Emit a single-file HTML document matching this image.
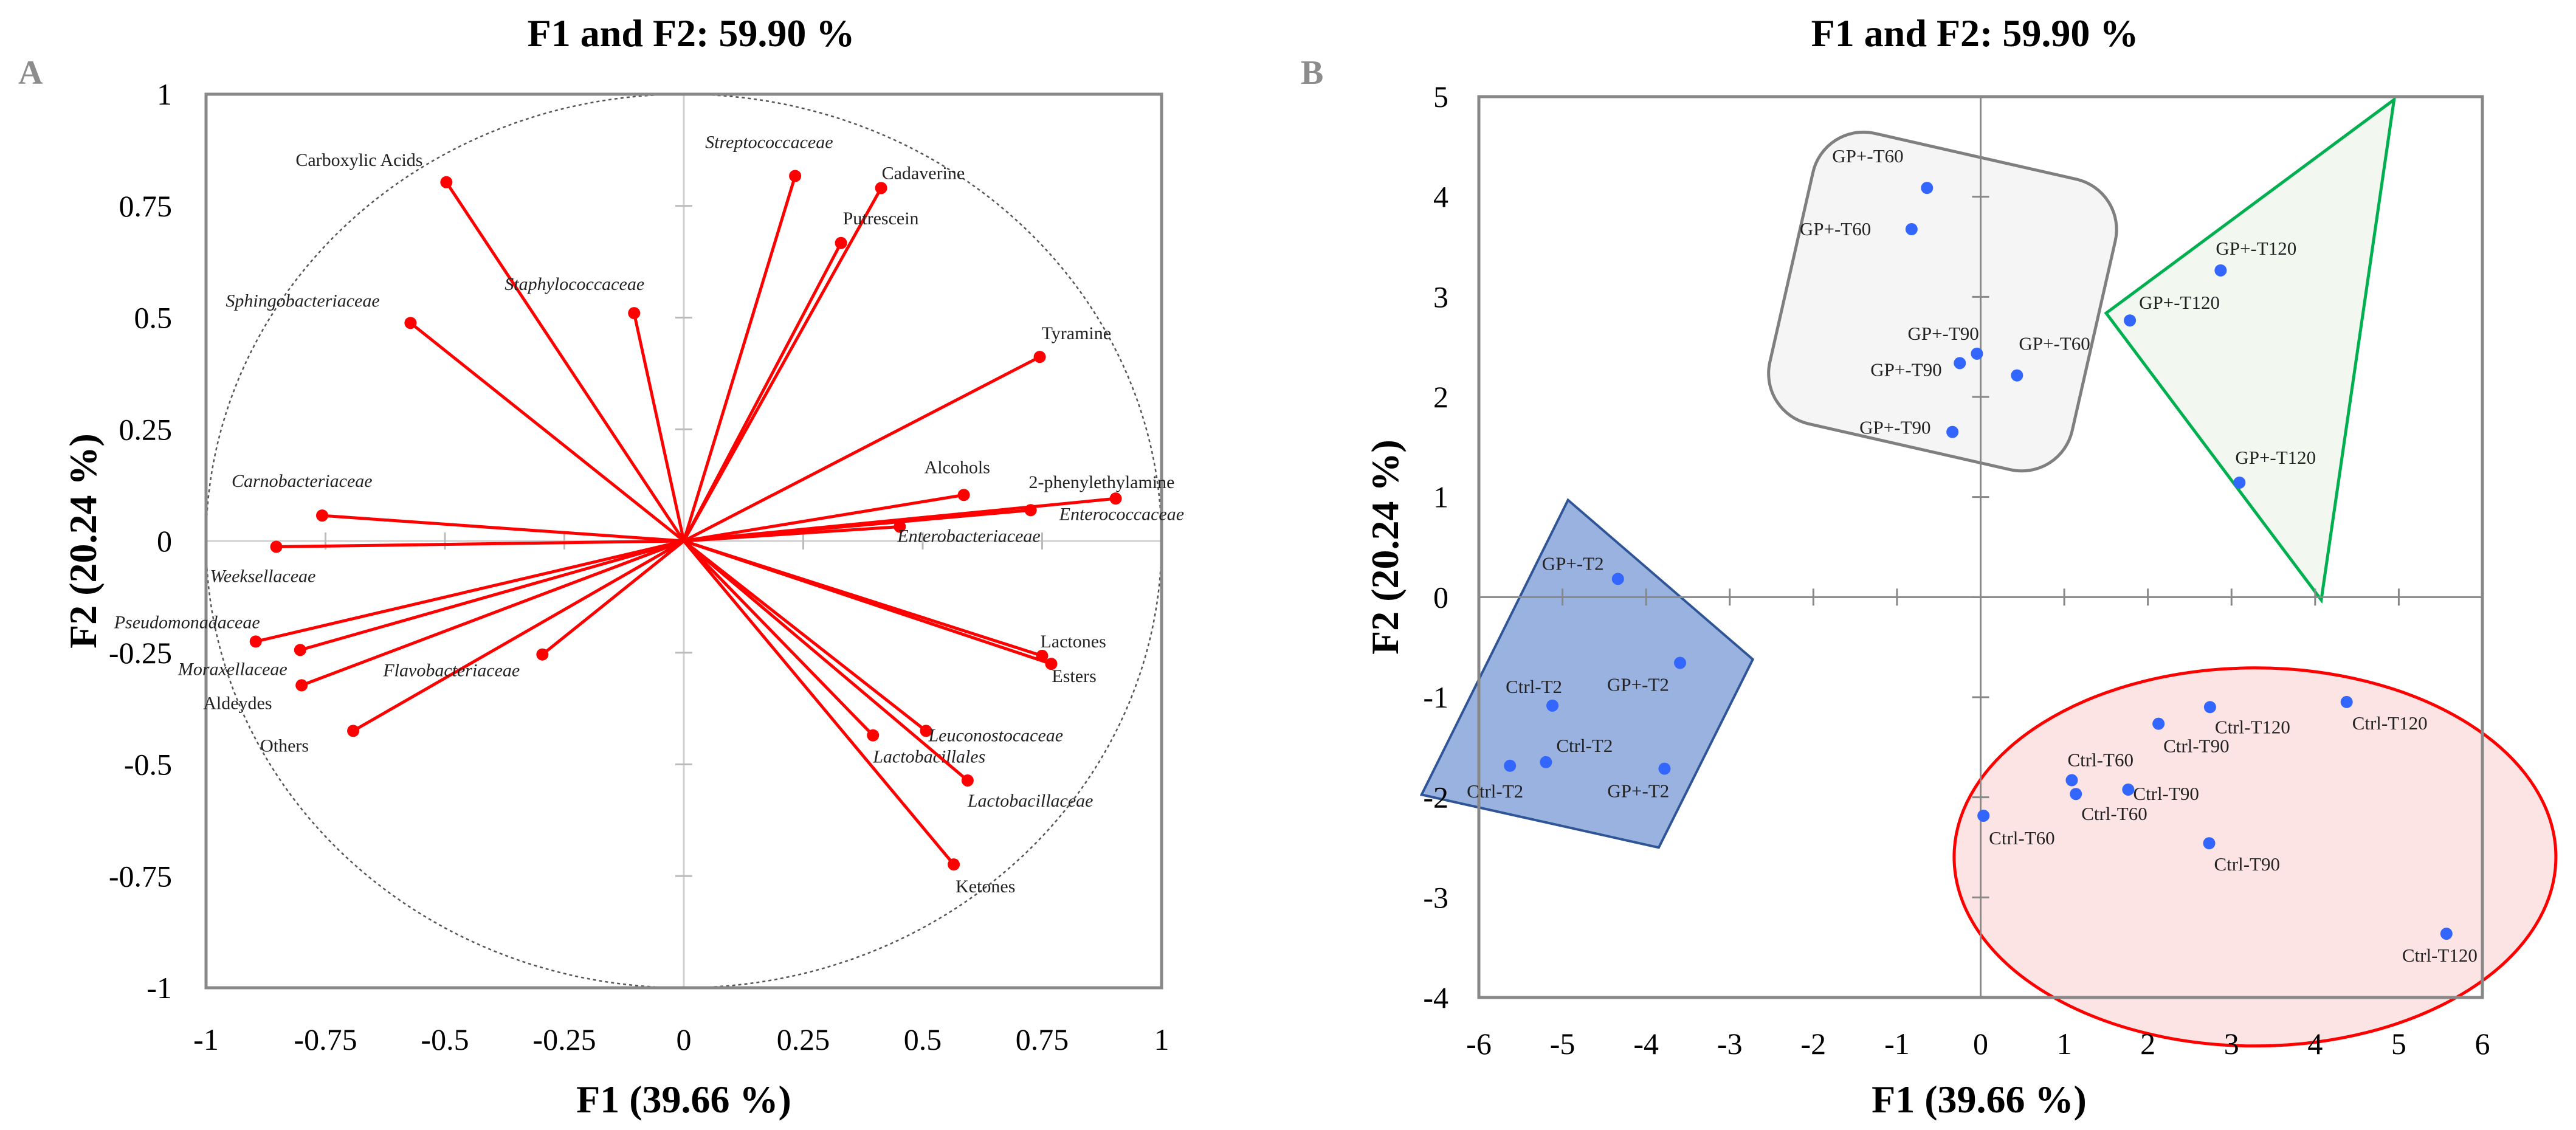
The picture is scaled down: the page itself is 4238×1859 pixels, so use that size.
<!DOCTYPE html>
<html><head><meta charset="utf-8"><style>
html,body{margin:0;padding:0;background:#fff;}
svg{display:block;font-family:"Liberation Serif",serif;}
</style></head><body>
<svg id="fig" width="4238" height="1859" viewBox="0 0 4238 1859" xmlns="http://www.w3.org/2000/svg">
<text x="1137" y="76" font-size="64" font-weight="bold" text-anchor="middle">F1 and F2: 59.90 %</text>
<text x="30" y="138" font-size="56" font-weight="bold" fill="#8c8c8c">A</text>
<text x="1125" y="1830" font-size="64" font-weight="bold" text-anchor="middle">F1 (39.66 %)</text>
<text transform="translate(158,890) rotate(-90)" font-size="64" font-weight="bold" text-anchor="middle">F2 (20.24 %)</text>
<text x="3249" y="76" font-size="64" font-weight="bold" text-anchor="middle">F1 and F2: 59.90 %</text>
<text x="2140" y="138" font-size="56" font-weight="bold" fill="#8c8c8c">B</text>
<text x="3256" y="1830" font-size="64" font-weight="bold" text-anchor="middle">F1 (39.66 %)</text>
<text transform="translate(2300,900) rotate(-90)" font-size="64" font-weight="bold" text-anchor="middle">F2 (20.24 %)</text>
<g id="ga"></g>
<g id="gb"></g>
</svg>
<script>
// ---------- Panel A data ----------
const varNames = ["Carboxylic Acids","Streptococcaceae","Cadaverine","Putrescein","Staphylococcaceae","Sphingobacteriaceae","Tyramine","Alcohols","2-phenylethylamine","Enterococcaceae","Enterobacteriaceae","Carnobacteriaceae","Weeksellaceae","Pseudomonadaceae","Moraxellaceae","Aldeydes","Others","Flavobacteriaceae","Lactones","Esters","Leuconostocaceae","Lactobacillales","Lactobacillaceae","Ketones"];
const varF1 = [-0.497,0.233,0.413,0.329,-0.104,-0.572,0.745,0.586,0.904,0.726,0.452,-0.757,-0.853,-0.896,-0.803,-0.800,-0.692,-0.296,0.750,0.769,0.507,0.396,0.594,0.565];
const varF2 = [0.803,0.817,0.790,0.667,0.510,0.488,0.412,0.103,0.095,0.069,0.032,0.057,-0.013,-0.225,-0.244,-0.323,-0.425,-0.254,-0.257,-0.275,-0.425,-0.435,-0.536,-0.724];
const aTicks = [-1,-0.75,-0.5,-0.25,0,0.25,0.5,0.75,1];
const aTickLabels = ["-1","-0.75","-0.5","-0.25","0","0.25","0.5","0.75","1"];
// ---------- Panel B data ----------
const obsNames = ["GP+-T60","GP+-T60","GP+-T90","GP+-T90","GP+-T60","GP+-T90","GP+-T120","GP+-T120","GP+-T120","GP+-T2","GP+-T2","Ctrl-T2","Ctrl-T2","Ctrl-T2","GP+-T2","Ctrl-T120","Ctrl-T120","Ctrl-T90","Ctrl-T60","Ctrl-T60","Ctrl-T90","Ctrl-T60","Ctrl-T90","Ctrl-T120"];
const obsF1 = [-0.641,-0.826,-0.044,-0.249,0.435,-0.337,2.870,1.785,3.095,-4.337,-3.594,-5.120,-5.198,-5.628,-3.780,2.743,4.377,2.127,1.090,1.139,1.765,0.034,2.733,5.570];
const obsF2 = [4.088,3.676,2.432,2.338,2.215,1.650,3.264,2.764,1.144,0.182,-0.657,-1.084,-1.649,-1.685,-1.714,-1.099,-1.048,-1.265,-1.829,-1.967,-1.923,-2.184,-2.459,-3.363];
const bXTicks = [-6,-5,-4,-3,-2,-1,0,1,2,3,4,5,6];
const bYTicks = [-4,-3,-2,-1,0,1,2,3,4,5];
const triX = [4.944,1.501,4.073];
const triY = [4.97,2.837,-0.028];
const quadX = [-4.934,-2.724,-3.849,-6.685];
const quadY = [0.970,-0.622,-2.502,-1.974];

// layout (label offsets in px)
const aLabOff = [[-248,-37],[-148,-56],[1,-25],[3,-41],[-213,-48],[-304,-37],[3,-39],[-65,-46],[-143,-27],[47,6],[-4,15],[-149,-57],[-109,48],[-233,-32],[-201,31],[-162,29],[-153,24],[-262,26],[-3,-24],[1,20],[4,7],[0,35],[0,33],[3,36]];
const bLabOff = [[-156,-52],[-184,0],[-114,-33],[-147,11],[3,-52],[-153,-7],[-8,-36],[15,-29],[-7,-41],[-125,-25],[-120,36],[-77,-31],[17,-27],[-71,42],[-94,37],[8,33],[9,35],[8,37],[-7,-33],[9,33],[8,7],[9,37],[8,35],[-73,36]];

const NS="http://www.w3.org/2000/svg";
function mk(parent,tag,attrs){const e=document.createElementNS(NS,tag);for(const k in attrs)e.setAttribute(k,attrs[k]);parent.appendChild(e);return e;}

// ----- Panel A -----
const A={l:339,r:1911,t:155,b:1625};
const ax=v=>A.l+(v+1)/2*(A.r-A.l);
const ay=v=>A.b-(v+1)/2*(A.b-A.t);
const ga=document.getElementById('ga');
let e;
e=mk(ga,'ellipse',{cx:ax(0),cy:ay(0),rx:ax(1)-ax(0),ry:ay(0)-ay(1),fill:'none',stroke:'#555','stroke-width':2.5,'stroke-dasharray':'5 5'});


e=mk(ga,'line',{x1:A.l,x2:A.r,y1:ay(0),y2:ay(0),stroke:'#d0d0d0','stroke-width':3});


e=mk(ga,'line',{x1:ax(0),x2:ax(0),y1:A.t,y2:A.b,stroke:'#d0d0d0','stroke-width':3});


aTicks.forEach((t,i)=>{
  if(t!==0&&Math.abs(t)<1){
    e=mk(ga,'line',{x1:ax(0)-14,x2:ax(0)+14,y1:ay(t),y2:ay(t),stroke:'#bbb','stroke-width':3});
    
    
    e=mk(ga,'line',{x1:ax(t),x2:ax(t),y1:ay(0)-14,y2:ay(0)+14,stroke:'#bbb','stroke-width':3});
    
    
  }
  e=mk(ga,'text',{x:283,y:ay(t)+17,'font-size':50,'text-anchor':'end'});e.textContent=aTickLabels[i];
  
  
  e=mk(ga,'text',{x:ax(t),y:1727,'font-size':50,'text-anchor':'middle'});e.textContent=aTickLabels[i];
  
  
});
e=mk(ga,'rect',{x:A.l,y:A.t,width:A.r-A.l,height:A.b-A.t,fill:'none',stroke:'#888','stroke-width':5});


varNames.forEach((n,i)=>{
  const px=ax(varF1[i]),py=ay(varF2[i]);
  e=mk(ga,'line',{x1:ax(0),y1:ay(0),x2:px,y2:py,stroke:'#ff0000','stroke-width':5});
  
  
  e=mk(ga,'circle',{cx:px,cy:py,r:10,fill:'#ff0000'});
  
  
  const it=/ace[a]?e$|ales$/.test(n);
  e=mk(ga,'text',{x:px+aLabOff[i][0],y:py+aLabOff[i][1]+10,'font-size':30,'font-style':it?'italic':'normal',fill:'#222'});e.textContent=n;
  
  
});

// ----- Panel B -----
const B={l:2433,r:4084,t:159,b:1641};
const bx=v=>B.l+(v+6)/12*(B.r-B.l);
const by=v=>B.b-(v+4)/9*(B.b-B.t);
const gb=document.getElementById('gb');
const gcx=bx(-0.455),gcy=by(2.953);
e=mk(gb,'rect',{x:gcx-255,y:gcy-245,width:510,height:490,rx:85,ry:85,fill:'#f5f5f5',stroke:'#7f7f7f','stroke-width':5,transform:`rotate(12.8 ${gcx} ${gcy})`});


e=mk(gb,'polygon',{points:triX.map((x,i)=>bx(x)+','+by(triY[i])).join(' '),fill:'#f2f7ef',stroke:'#00b050','stroke-width':5});


e=mk(gb,'polygon',{points:quadX.map((x,i)=>bx(x)+','+by(quadY[i])).join(' '),fill:'#8faadc',stroke:'#2f5597','stroke-width':4,'fill-opacity':0.9});


e=mk(gb,'ellipse',{cx:bx(3.281),cy:by(-2.596),rx:495,ry:311,fill:'#fde4e4',stroke:'#ff0000','stroke-width':5});


e=mk(gb,'line',{x1:B.l,x2:B.r,y1:by(0),y2:by(0),stroke:'#888','stroke-width':3});


e=mk(gb,'line',{x1:bx(0),x2:bx(0),y1:B.t,y2:B.b,stroke:'#888','stroke-width':3});


bXTicks.forEach(t=>{
  e=mk(gb,'line',{x1:bx(t),x2:bx(t),y1:by(0)-14,y2:by(0)+14,stroke:'#888','stroke-width':3});
  
  
  e=mk(gb,'text',{x:bx(t),y:1734,'font-size':50,'text-anchor':'middle'});e.textContent=String(t);
  
  
});
bYTicks.forEach(t=>{
  e=mk(gb,'line',{x1:bx(0)-14,x2:bx(0)+14,y1:by(t),y2:by(t),stroke:'#888','stroke-width':3});
  
  
  e=mk(gb,'text',{x:2383,y:by(t)+17,'font-size':50,'text-anchor':'end'});e.textContent=String(t);
  
  
});
e=mk(gb,'rect',{x:B.l,y:B.t,width:B.r-B.l,height:B.b-B.t,fill:'none',stroke:'#888','stroke-width':5});


obsNames.forEach((n,i)=>{
  const px=bx(obsF1[i]),py=by(obsF2[i]);
  e=mk(gb,'circle',{cx:px,cy:py,r:10,fill:'#3366ff'});
  
  
  e=mk(gb,'text',{x:px+bLabOff[i][0],y:py+bLabOff[i][1]+10,'font-size':31,fill:'#222'});e.textContent=n;
  
  
});
</script>
</body></html>
